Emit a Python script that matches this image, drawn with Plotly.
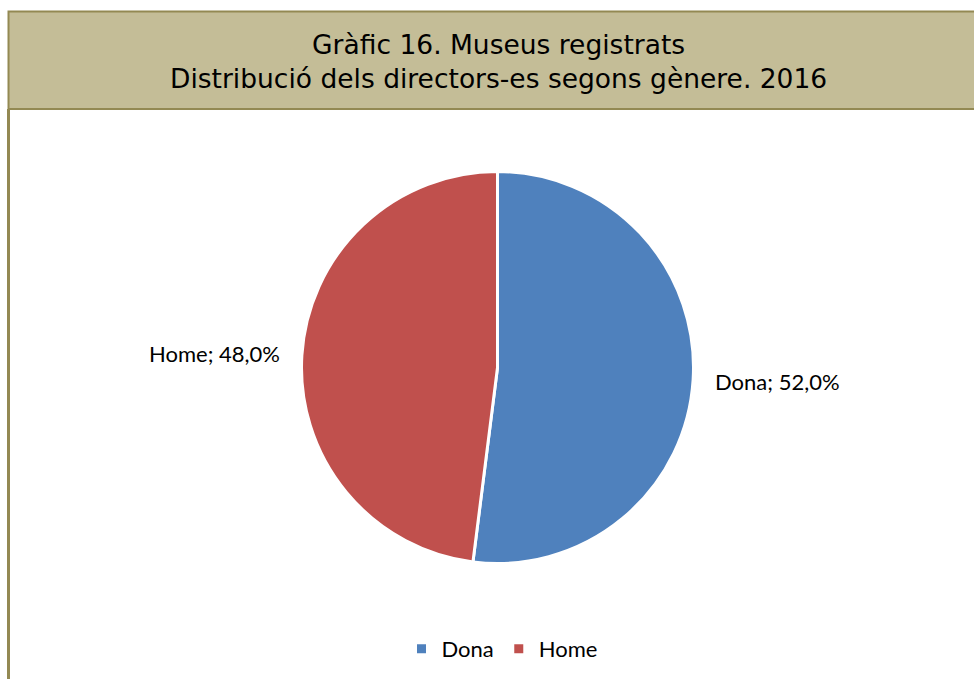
import math
import plotly.graph_objects as go

categories = ["Dona", "Home"]
values = [52.0, 48.0]
colors = ["#4F81BD", "#C0504D"]
title_lines = ["Gràfic 16. Museus registrats", "Distribució dels directors-es segons gènere. 2016"]

W, H = 974, 679

def px(x):
    return x / W

def py(y):
    return 1 - y / H

# pie geometry (screen pixels)
CX, CY, R = 497.5, 367.5, 194.5
PAD = 1.5

fig = go.Figure()
fig.add_trace(go.Pie(
    labels=categories,
    values=values,
    sort=False,
    direction="clockwise",
    rotation=0,
    marker=dict(colors=colors, line=dict(color="white", width=3)),
    textinfo="none",
    hoverinfo="label+percent",
    domain=dict(x=[px(CX - R - PAD), px(CX + R + PAD)],
                y=[py(CY + R + PAD), py(CY - R - PAD)]),
    showlegend=True,
))

# data labels placed at each slice's mid-angle, outside the pie
annotations = []
total = sum(values)
cum = 0.0
for lab, v in zip(categories, values):
    mid = (cum + v / 2) / total * 2 * math.pi
    cum += v
    rr = R + 21
    x = CX + rr * math.sin(mid)
    y = CY - rr * math.cos(mid)
    pct = f"{v / total * 100:.1f}".replace(".", ",")
    annotations.append(dict(
        text=f"{lab}; {pct}%", xref="paper", yref="paper",
        x=px(x), y=py(y), xanchor="left" if math.sin(mid) > 0 else "right",
        yanchor="middle", showarrow=False,
        font=dict(family="Lato, Carlito, sans-serif", size=22, color="black"),
    ))

annotations.append(dict(
    text="<br>".join(title_lines),
    xref="paper", yref="paper", x=px(498), y=py(61),
    xanchor="center", yanchor="middle", showarrow=False,
    font=dict(family="DejaVu Sans, Verdana, sans-serif", size=26.5, color="black"),
    align="center",
))

shapes = [
    dict(type="rect", xref="paper", yref="paper",
         x0=px(8.5), x1=px(1000), y0=py(109), y1=py(11.5),
         fillcolor="#C4BD97", line=dict(color="#938953", width=2), layer="below"),
    dict(type="line", xref="paper", yref="paper",
         x0=px(8.5), x1=px(8.5), y0=py(109), y1=py(700),
         line=dict(color="#938953", width=3)),
]

fig.update_layout(
    width=W, height=H,
    margin=dict(l=0, r=0, t=0, b=0),
    paper_bgcolor="white",
    plot_bgcolor="white",
    separators=",.",
    shapes=shapes,
    annotations=annotations,
    legend=dict(orientation="h", x=px(502), xanchor="center", y=py(649), yanchor="middle",
                font=dict(family="Lato, Carlito, sans-serif", size=22, color="black"),
                itemwidth=30, bgcolor="rgba(0,0,0,0)"),
)

fig.write_html("out.html",
               config={"displayModeBar": False},
               post_script="document.body.style.margin='0';document.body.style.overflow='hidden';")
